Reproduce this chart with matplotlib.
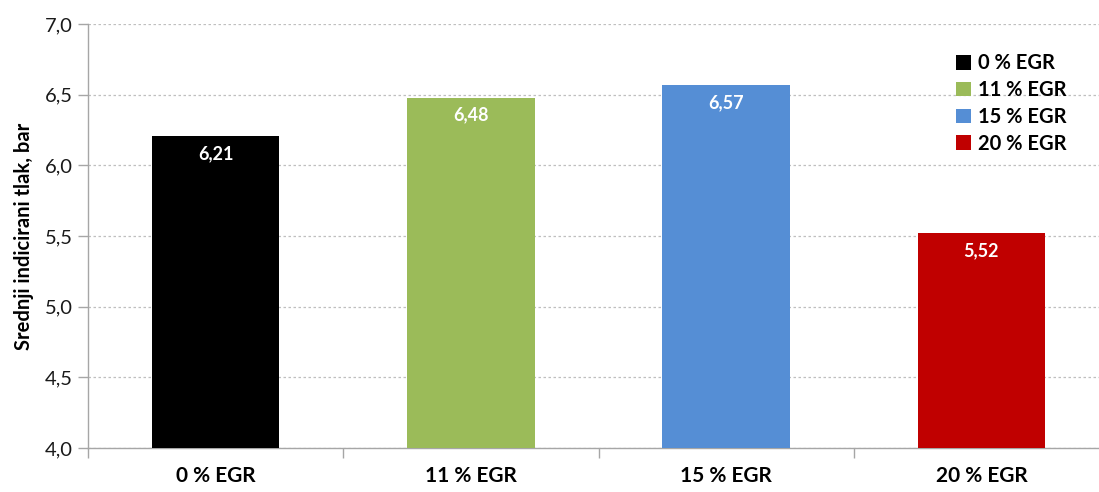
import numpy as np
import matplotlib.pyplot as plt
from matplotlib.ticker import FuncFormatter, FixedLocator

categories = ['0 % EGR', '11 % EGR', '15 % EGR', '20 % EGR']
values = [6.21, 6.48, 6.57, 5.52]
colors = ['#000000', '#9BBB59', '#558ED5', '#C00000']
y_ticks = [4.0, 4.5, 5.0, 5.5, 6.0, 6.5, 7.0]

plt.rcParams['font.family'] = ['Lato', 'DejaVu Sans']

fig = plt.figure(figsize=(10.99, 4.92), dpi=100)
# right edge of the plot area runs past the image, as in the reference
ax = fig.add_axes([0.0801, 0.0894, 0.929, 0.8618])

x = np.arange(len(categories))
bars = ax.bar(x, values, width=0.5, color=colors, zorder=3)
for b, lab in zip(bars, categories):
    b.set_label(lab)

for xi, v in zip(x, values):
    ax.text(xi, v - 0.065, f'{v:.2f}'.replace('.', ','), ha='center', va='top',
            color='white', fontsize=13, fontweight='bold', zorder=4)

ax.set_xlim(-0.5, len(categories) - 0.5)
ax.set_ylim(y_ticks[0], y_ticks[-1])
ax.set_yticks(y_ticks)
ax.yaxis.set_major_formatter(FuncFormatter(lambda v, p: f'{v:.1f}'.replace('.', ',')))
ax.set_xticks(x)
ax.set_xticklabels(categories, fontsize=15, fontweight='bold')
ax.xaxis.set_minor_locator(FixedLocator(np.arange(-0.5, len(categories), 1.0)))
ax.tick_params(axis='x', which='major', length=0, pad=13)
ax.tick_params(axis='x', which='minor', length=7, color='#A6A6A6', width=1)
ax.tick_params(axis='y', length=7, color='#A6A6A6', width=1, labelsize=14.5,
               labelcolor='#1a1a1a', pad=4)

ax.grid(axis='y', color='#BFBFBF', linestyle=(0, (2, 2)), linewidth=0.9, zorder=0)
for s in ['top', 'right']:
    ax.spines[s].set_visible(False)
for s in ['left', 'bottom']:
    ax.spines[s].set_color('#A6A6A6')
    ax.spines[s].set_linewidth(1)

ax.set_ylabel('Srednji indicirani tlak, bar', fontsize=14.5, fontweight='bold', labelpad=8)

leg = ax.legend(loc='upper left', bbox_to_anchor=(0.842, 0.95), frameon=False,
                prop={'size': 14.5, 'weight': 'bold'}, handlelength=0.75, handleheight=0.75,
                handletextpad=0.35, labelspacing=0.34, borderaxespad=0)

fig.savefig('out.png', dpi=100)
